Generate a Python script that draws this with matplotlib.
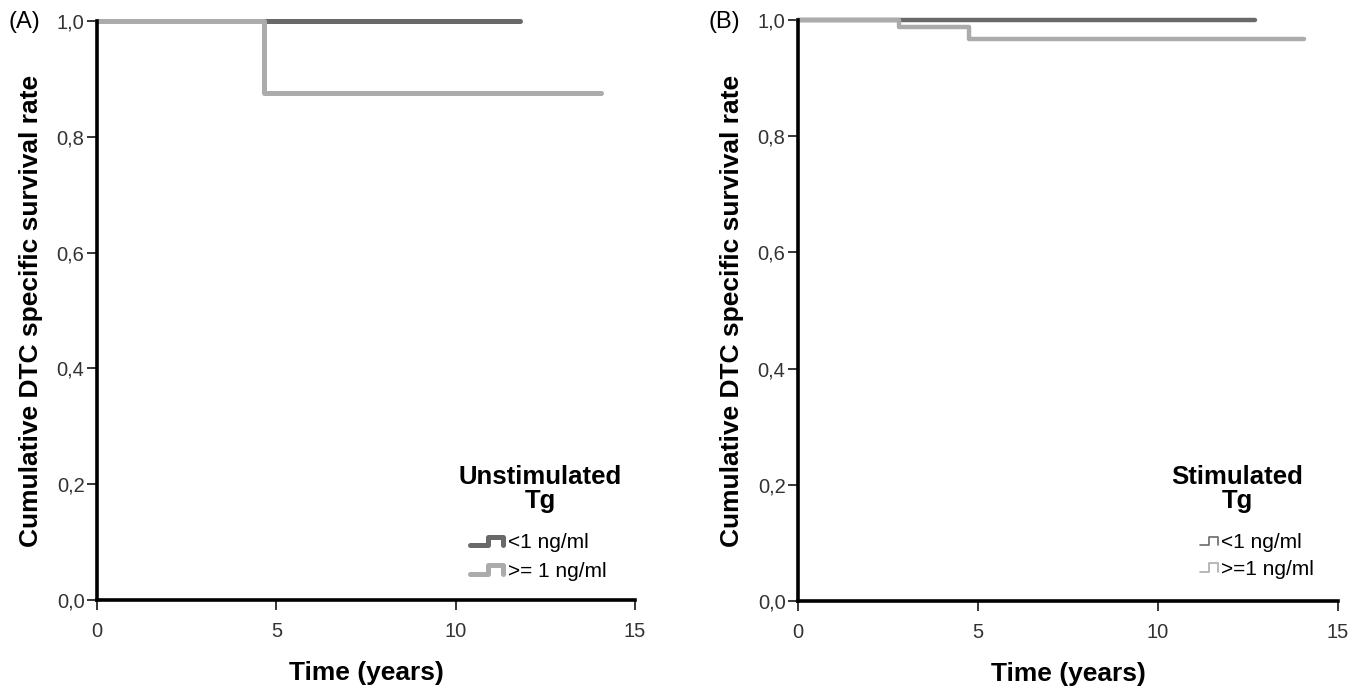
import matplotlib
matplotlib.use('Agg')
import matplotlib.pyplot as plt
from matplotlib.lines import Line2D
from matplotlib.legend_handler import HandlerBase
from matplotlib.ticker import FuncFormatter

plt.rcParams['font.family'] = ['Liberation Sans', 'DejaVu Sans']

# Kaplan-Meier step data (time in years, survival)
a_low_t = [0, 11.8]
a_low_s = [1.0, 1.0]
a_high_t = [0, 4.65, 14.05]
a_high_s = [1.0, 0.875, 0.875]

b_low_t = [0, 12.7]
b_low_s = [1.0, 1.0]
b_high_t = [0, 2.8, 4.75, 14.05]
b_high_s = [1.0, 0.988, 0.967, 0.967]

x_ticks = [0, 5, 10, 15]
y_ticks = [0.0, 0.2, 0.4, 0.6, 0.8, 1.0]

DARK = '#696969'
LIGHT = '#ababab'


class StepHandler(HandlerBase):
    # small step glyph like the SPSS legend icon
    def create_artists(self, legend, orig_handle, xdescent, ydescent,
                       width, height, fontsize, trans):
        fx = [0.0, 0.5, 0.5, 0.95, 0.95]
        fy = [0.2, 0.2, 0.8, 0.8, 0.2]
        xs = [f * width - xdescent for f in fx]
        ys = [f * height - ydescent for f in fy]
        ln = Line2D(xs, ys, color=orig_handle.get_color(),
                    lw=orig_handle.get_linewidth(),
                    solid_joinstyle='round', solid_capstyle='round',
                    transform=trans)
        return [ln]


def comma(v, pos):
    return f'{v:.1f}'.replace('.', ',')


def style_axes(ax):
    for side in ['top', 'right']:
        ax.spines[side].set_visible(False)
    for side in ['left', 'bottom']:
        ax.spines[side].set_linewidth(2.6)
        ax.spines[side].set_color('black')
    ax.set_xlim(0, 15)
    ax.set_ylim(0, 1.0)
    ax.set_xticks(x_ticks)
    ax.set_yticks(y_ticks)
    ax.yaxis.set_major_formatter(FuncFormatter(comma))
    ax.tick_params(direction='out', length=7, width=1.1, labelsize=14.5,
                   colors='black', labelcolor='#333333')
    ax.tick_params(axis='x', pad=9)
    ax.tick_params(axis='y', pad=2)
    ax.set_xlabel('Time (years)', fontsize=19, fontweight='bold', labelpad=14)
    ax.set_ylabel('Cumulative DTC specific survival rate', fontsize=19,
                  fontweight='bold', labelpad=10)


fig = plt.figure(figsize=(13.67, 6.87), dpi=100)
ax1 = fig.add_axes([0.071, 0.1266, 0.3935, 0.8428])
ax2 = fig.add_axes([0.5838, 0.1252, 0.395, 0.8457])

# panel A
style_axes(ax1)
l1, = ax1.step(a_low_t, a_low_s, where='post', color=DARK, lw=3.6,
               solid_capstyle='round', clip_on=False)
l2, = ax1.step(a_high_t, a_high_s, where='post', color=LIGHT, lw=3.6,
               solid_capstyle='round', clip_on=False)
ax1.text(0.8234, 0.1917, 'Unstimulated\nTg', transform=ax1.transAxes,
         ha='center', va='center', fontsize=18.5, fontweight='bold',
         linespacing=1.0)
ax1.legend([l1, l2], ['<1 ng/ml', '>= 1 ng/ml'],
           handler_map={Line2D: StepHandler()}, frameon=False,
           loc='center left', bbox_to_anchor=(0.693, 0.0743),
           borderpad=0, borderaxespad=0,
           fontsize=15, handlelength=1.7, handletextpad=0.15, labelspacing=0.45)
fig.text(0.006, 0.968, '(A)', fontsize=17, va='center', ha='left')

# panel B
style_axes(ax2)
l3, = ax2.step(b_low_t, b_low_s, where='post', color=DARK, lw=3.2,
               solid_capstyle='round', clip_on=False)
l4, = ax2.step(b_high_t, b_high_s, where='post', color=LIGHT, lw=3.2,
               solid_capstyle='round', clip_on=False)
h3 = Line2D([], [], color=DARK, lw=1.2)
h4 = Line2D([], [], color=LIGHT, lw=1.2)
ax2.text(0.813, 0.1928, 'Stimulated\nTg', transform=ax2.transAxes,
         ha='center', va='center', fontsize=18.5, fontweight='bold',
         linespacing=1.0)
ax2.legend([h3, h4], ['<1 ng/ml', '>=1 ng/ml'],
           handler_map={Line2D: StepHandler()}, frameon=False,
           loc='center left', bbox_to_anchor=(0.744, 0.0775),
           borderpad=0, borderaxespad=0,
           fontsize=15, handlelength=0.9, handletextpad=0.1, labelspacing=0.35)
fig.text(0.518, 0.968, '(B)', fontsize=17, va='center', ha='left')

fig.savefig('out.png', dpi=100)
